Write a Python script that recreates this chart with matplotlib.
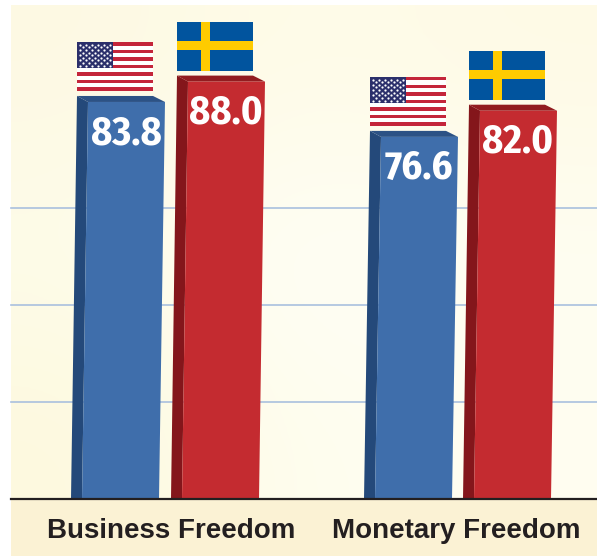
import numpy as np
import matplotlib
matplotlib.use("Agg")
import matplotlib.pyplot as plt
from matplotlib.patches import Rectangle, Polygon
from matplotlib import font_manager

categories = ["Business Freedom", "Monetary Freedom"]
us_values = [83.8, 76.6]
sweden_values = [88.0, 82.0]
value_labels_us = ["83.8", "76.6"]
value_labels_sweden = ["88.0", "82.0"]
gridlines = [20, 40, 60]

# layout, axes x units are pixels, y units are index points
PX = 4.85
BASE_Y = 499
WIDTH, HEIGHT = 597, 556
PANEL_LEFT = 11
PANEL_TOP = 5
us_left = [71, 364]
sweden_left = [171, 463]
label_centers = [171, 456]

BLUE, BLUE_DARK, BLUE_TOP = "#3f6eab", "#24497a", "#2c5285"
RED, RED_DARK, RED_TOP = "#c42b30", "#84161b", "#921c20"
US_RED, US_NAVY = "#c4253a", "#2b2f6b"
SE_BLUE, SE_YELLOW = "#01549e", "#fecb00"

names = {f.name for f in font_manager.fontManager.ttflist}
narrow = "Liberation Sans"
for candidate in ["Fira Sans Condensed", "PT Sans Narrow", "Roboto Condensed"]:
    if candidate in names:
        narrow = candidate
        break

fig = plt.figure(figsize=(WIDTH / 100, HEIGHT / 100), dpi=100, facecolor="white")
ax = fig.add_axes([0, 0, 1, 1])
y_bottom = (BASE_Y - HEIGHT) / PX
y_top = BASE_Y / PX
y_panel = (BASE_Y - PANEL_TOP) / PX

# soft cream wash behind the bars
wash = np.array([[matplotlib.colors.to_rgb(c) for c in row] for row in [
    ["#fdf9e3", "#fffce9", "#fefae6"],
    ["#fefcea", "#fffffa", "#fffef2"],
    ["#fdf9de", "#fffef0", "#fffdf0"],
]])
ax.imshow(wash, extent=[PANEL_LEFT, WIDTH, 0, y_panel], aspect="auto",
          interpolation="bicubic", zorder=0)
ax.add_patch(Rectangle((PANEL_LEFT, y_bottom), WIDTH - PANEL_LEFT, -y_bottom,
                       fc="#fbf2d4", ec="none", zorder=1))

for g in gridlines:
    ax.plot([PANEL_LEFT, WIDTH], [g, g], color="#a9c0de", lw=1.2, zorder=2)


def draw_bar(left, value, front, dark, top):
    # back top edge sits a bit under the nominal value, bar leans right
    back = value - 0.7
    fr = back - 6 / PX
    lean = 6
    side = 11
    w = 77
    ax.add_patch(Polygon([(left, 0), (left + side, 0), (left + side + lean, fr), (left + lean, back)],
                         fc=dark, ec="none", zorder=3))
    ax.add_patch(Polygon([(left + lean, back), (left + lean + w - 1, back),
                          (left + side + lean + w, fr), (left + side + lean, fr)],
                         fc=top, ec="none", zorder=3))
    ax.add_patch(Polygon([(left + side, 0), (left + side + w, 0),
                          (left + side + lean + w, fr), (left + side + lean, fr)],
                         fc=front, ec="none", zorder=3))
    return left + lean, back, left + side + lean / 2 + w / 2


def draw_us_flag(x, y):
    w, h = 76, 49 / PX
    ax.add_patch(Rectangle((x, y), w, h, fc="white", ec="none", zorder=4))
    sh = h / 13
    for i in range(0, 13, 2):
        ax.add_patch(Rectangle((x, y + (i + 0.05) * sh), w, 0.9 * sh, fc=US_RED, ec="none", zorder=4))
    ax.add_patch(Rectangle((x, y + 6 * sh), 36, 7 * sh, fc=US_NAVY, ec="none", zorder=5))
    xs, ys = [], []
    for r in range(9):
        n = 6 if r % 2 == 0 else 5
        off = 3 if r % 2 == 0 else 6
        for c in range(n):
            xs.append(x + off + c * 6)
            ys.append(y + 6 * sh + (r + 1) * 7 * sh / 10)
    ax.scatter(xs, ys, s=2.6, c="white", linewidths=0, zorder=6)


def draw_se_flag(x, y):
    w, h = 76, 49 / PX
    ax.add_patch(Rectangle((x, y), w, h, fc=SE_BLUE, ec="none", zorder=4))
    ax.add_patch(Rectangle((x + 23.5, y), 9.5, h, fc=SE_YELLOW, ec="none", zorder=5))
    ax.add_patch(Rectangle((x, y + 0.42 * h), w, 0.19 * h, fc=SE_YELLOW, ec="none", zorder=5))


for i in range(len(categories)):
    fx, back, cx = draw_bar(us_left[i], us_values[i], BLUE, BLUE_DARK, BLUE_TOP)
    draw_us_flag(fx, back + 5 / PX)
    ax.text(cx + 2.5, back - 6.8, value_labels_us[i], color="white", ha="center", va="center_baseline",
            fontsize=29, fontweight="bold", family=narrow, zorder=7)

    fx, back, cx = draw_bar(sweden_left[i], sweden_values[i], RED, RED_DARK, RED_TOP)
    draw_se_flag(fx, back + 5 / PX)
    ax.text(cx + 2.5, back - 6.8, value_labels_sweden[i], color="white", ha="center", va="center_baseline",
            fontsize=29, fontweight="bold", family=narrow, zorder=7)

ax.plot([PANEL_LEFT, WIDTH], [0, 0], color="#231f20", lw=1.6, zorder=8)

for i, name in enumerate(categories):
    ax.text(label_centers[i], -6.6, name, color="#231f20", ha="center", va="center",
            fontsize=20, fontweight="bold", family="Liberation Sans", zorder=8)

ax.set_xlim(0, WIDTH)
ax.set_ylim(y_bottom, y_top)
ax.axis("off")
fig.savefig("out.png", dpi=100)
